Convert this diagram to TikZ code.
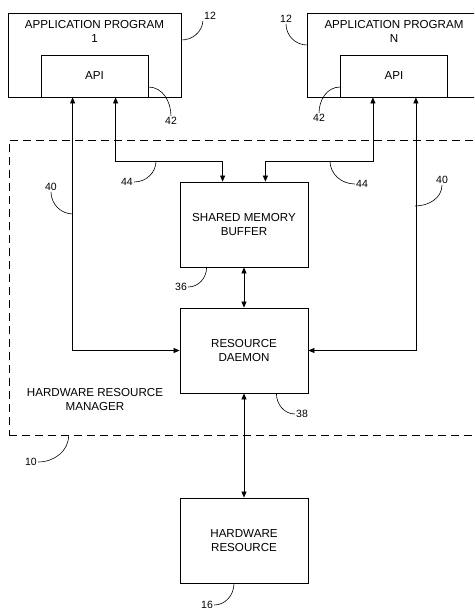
\documentclass[tikz,border=0pt]{standalone}
\usepackage{fontspec}
\setmainfont{Liberation Sans}
\usetikzlibrary{arrows.meta, positioning}

\begin{document}
\begin{tikzpicture}[
    x=1pt, y=-1pt,
    every node/.style={font=\fontsize{11.6}{14}\selectfont},
    blk/.style={draw, line width=0.8pt, minimum width=128pt, minimum height=85pt, align=center, inner sep=0pt},
    app/.style={draw, line width=0.8pt, minimum width=173pt, minimum height=84pt, inner sep=0pt},
    api/.style={draw, line width=0.8pt, minimum width=107pt, minimum height=42pt, inner sep=0pt},
    ttl/.style={align=center, inner sep=0pt},
    num/.style={font=\fontsize{10.5}{12}\selectfont, inner sep=1pt},
    arr/.style={{Triangle[length=6pt,width=5pt]}-{Triangle[length=6pt,width=5pt]}, line width=0.7pt},
    lead/.style={line width=0.6pt}
]
\clip (0,0) rectangle (474,610);

\node[app] (app1) at (94.5,55) {};
\node[ttl, below=8pt of app1.north] (app1t) {APPLICATION PROGRAM\\1};
\node[api] (api1) at (94.5,76) {API};
\node[app] (appN) at (394,55) {};
\node[ttl, below=8pt of appN.north] (appNt) {APPLICATION PROGRAM\\N};
\node[api] (apiN) at (394,76) {API};

\node[draw, line width=0.7pt, dash pattern=on 8pt off 5pt, minimum width=481pt, minimum height=295pt] (hrm) at (249.5,287.5) {};
\node[ttl] (hrmt) at (95,400) {HARDWARE RESOURCE\\MANAGER};

\node[blk] (smb) at (244,224.5) {SHARED MEMORY\\BUFFER};
\node[blk] (dmn) at (244,350.5) {RESOURCE\\DAEMON};
\node[blk] (hwr) at (244,540.5) {HARDWARE\\RESOURCE};

\draw[arr] ([xshift=32pt]api1.south west) |- (dmn.west);
\draw[arr] ([xshift=75pt]api1.south west) -- ++(0,64) -| ([xshift=43pt]smb.north west);
\draw[arr] ([xshift=-32pt]apiN.south east) |- (dmn.east);
\draw[arr] ([xshift=-75pt]apiN.south east) -- ++(0,64) -| ([xshift=-43pt]smb.north east);
\draw[arr] (smb) -- (dmn);
\draw[arr] (dmn) -- (hwr);

\node[num] (n12a) at (210,16) {12};
\draw[lead] ([yshift=15pt]app1.east) to[out=0,in=-95] (n12a.south west);
\node[num] (n12b) at (286,19) {12};
\draw[lead] ([yshift=10pt]appN.west) to[out=180,in=-90] (n12b.south);
\node[num] (n42a) at (171,121) {42};
\draw[lead] ([yshift=-11pt]api1.east) to[out=0,in=90] (n42a.north);
\node[num] (n42b) at (319,118) {42};
\draw[lead] ([yshift=-11pt]apiN.west) to[out=180,in=90] (n42b.north);

\coordinate (c44a) at (156,161);
\node[num] (n44a) at (127,182) {44};
\draw[lead] (c44a) to[out=-90,in=0] (n44a.east);
\coordinate (c44b) at (330,161);
\node[num] (n44b) at (362,184) {44};
\draw[lead] (c44b) to[out=-90,in=180] (n44b.west);

\coordinate (c40a) at (73,214);
\node[num] (n40a) at (51,187) {40};
\draw[lead] (c40a) to[out=180,in=-90] (n40a.south);
\coordinate (c40b) at (415,206);
\node[num] (n40b) at (442,180) {40};
\draw[lead] (c40b) to[out=0,in=-90] (n40b.south);

\node[num] (n36) at (181,287) {36};
\draw[lead] ([xshift=27pt]smb.south west) to[out=-90,in=0] (n36.east);
\node[num] (n38) at (302,414) {38};
\draw[lead] ([xshift=-32pt]dmn.south east) to[out=-90,in=180] (n38.west);
\node[num] (n10) at (31,462) {10};
\draw[lead] ([xshift=60pt]hrm.south west) to[out=-90,in=0] (n10.east);
\node[num] (n16) at (207,605) {16};
\draw[lead] ([xshift=-10pt]hwr.south) to[out=-90,in=0] (n16.east);
\end{tikzpicture}
\end{document}
